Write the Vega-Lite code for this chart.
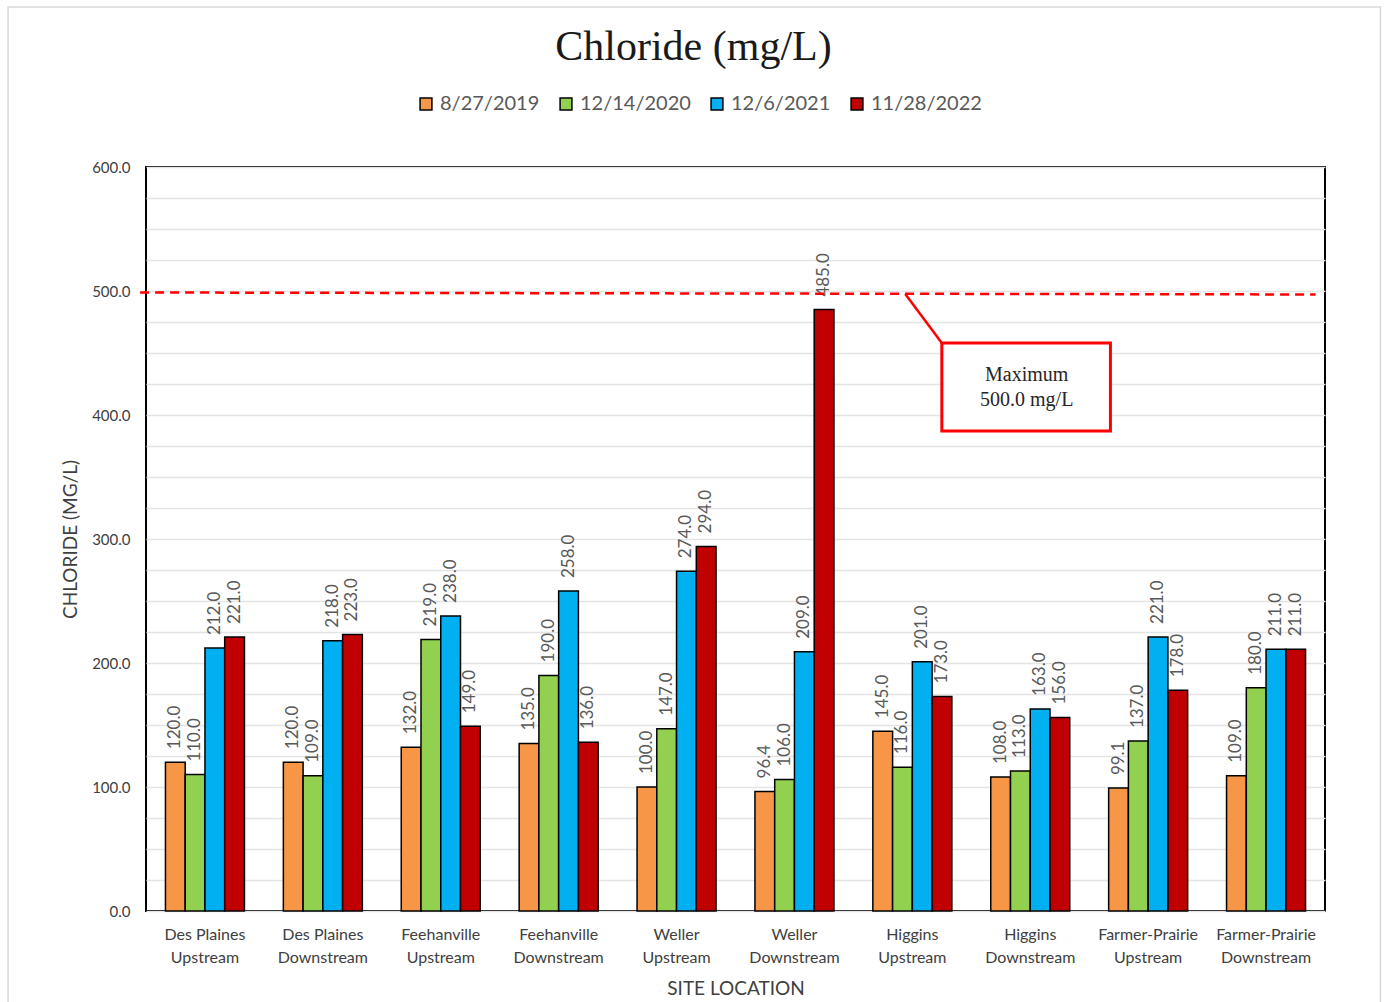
{
  "$schema": "https://vega.github.io/schema/vega-lite/v6.json",
  "width": 1179,
  "height": 744,
  "autosize": {"type": "none"},
  "padding": {"left": 146, "top": 167, "right": 60, "bottom": 91},
  "background": "white",
  "config": {"view": {"stroke": "black", "strokeWidth": 2}, "font": "Lato"},
  "title": {"text": "Chloride (mg/L)", "font": "Liberation Serif", "fontSize": 42, "fontWeight": "normal", "color": "#1a1a1a", "anchor": "middle", "dx": -42, "dy": 79, "offset": 16},
  "datasets": {
    "chloride": [
      {"site": "Des Plaines|Upstream", "date": "8/27/2019", "value": 120},
      {"site": "Des Plaines|Upstream", "date": "12/14/2020", "value": 110},
      {"site": "Des Plaines|Upstream", "date": "12/6/2021", "value": 212},
      {"site": "Des Plaines|Upstream", "date": "11/28/2022", "value": 221},
      {"site": "Des Plaines|Downstream", "date": "8/27/2019", "value": 120},
      {"site": "Des Plaines|Downstream", "date": "12/14/2020", "value": 109},
      {"site": "Des Plaines|Downstream", "date": "12/6/2021", "value": 218},
      {"site": "Des Plaines|Downstream", "date": "11/28/2022", "value": 223},
      {"site": "Feehanville|Upstream", "date": "8/27/2019", "value": 132},
      {"site": "Feehanville|Upstream", "date": "12/14/2020", "value": 219},
      {"site": "Feehanville|Upstream", "date": "12/6/2021", "value": 238},
      {"site": "Feehanville|Upstream", "date": "11/28/2022", "value": 149},
      {"site": "Feehanville|Downstream", "date": "8/27/2019", "value": 135},
      {"site": "Feehanville|Downstream", "date": "12/14/2020", "value": 190},
      {"site": "Feehanville|Downstream", "date": "12/6/2021", "value": 258},
      {"site": "Feehanville|Downstream", "date": "11/28/2022", "value": 136},
      {"site": "Weller|Upstream", "date": "8/27/2019", "value": 100},
      {"site": "Weller|Upstream", "date": "12/14/2020", "value": 147},
      {"site": "Weller|Upstream", "date": "12/6/2021", "value": 274},
      {"site": "Weller|Upstream", "date": "11/28/2022", "value": 294},
      {"site": "Weller|Downstream", "date": "8/27/2019", "value": 96.4},
      {"site": "Weller|Downstream", "date": "12/14/2020", "value": 106},
      {"site": "Weller|Downstream", "date": "12/6/2021", "value": 209},
      {"site": "Weller|Downstream", "date": "11/28/2022", "value": 485},
      {"site": "Higgins|Upstream", "date": "8/27/2019", "value": 145},
      {"site": "Higgins|Upstream", "date": "12/14/2020", "value": 116},
      {"site": "Higgins|Upstream", "date": "12/6/2021", "value": 201},
      {"site": "Higgins|Upstream", "date": "11/28/2022", "value": 173},
      {"site": "Higgins|Downstream", "date": "8/27/2019", "value": 108},
      {"site": "Higgins|Downstream", "date": "12/14/2020", "value": 113},
      {"site": "Higgins|Downstream", "date": "12/6/2021", "value": 163},
      {"site": "Higgins|Downstream", "date": "11/28/2022", "value": 156},
      {"site": "Farmer-Prairie|Upstream", "date": "8/27/2019", "value": 99.1},
      {"site": "Farmer-Prairie|Upstream", "date": "12/14/2020", "value": 137},
      {"site": "Farmer-Prairie|Upstream", "date": "12/6/2021", "value": 221},
      {"site": "Farmer-Prairie|Upstream", "date": "11/28/2022", "value": 178},
      {"site": "Farmer-Prairie|Downstream", "date": "8/27/2019", "value": 109},
      {"site": "Farmer-Prairie|Downstream", "date": "12/14/2020", "value": 180},
      {"site": "Farmer-Prairie|Downstream", "date": "12/6/2021", "value": 211},
      {"site": "Farmer-Prairie|Downstream", "date": "11/28/2022", "value": 211}
    ]
  },
  "resolve": {"scale": {"x": "independent"}},
  "layer": [
    {
      "data": {"name": "chloride"},
      "encoding": {
        "x": {
          "field": "site", "type": "nominal", "sort": null, "title": "SITE LOCATION",
          "scale": {"paddingInner": 0.33, "paddingOuter": 0.165},
          "axis": {"labelAngle": 0, "labelExpr": "split(datum.label, '|')", "ticks": false, "domain": false, "grid": false,
                   "labelFont": "Lato", "labelFontSize": 16, "labelLineHeight": 23, "labelPadding": 15, "labelColor": "#404040", "labelBaseline": "top",
                   "titleFont": "Lato", "titleFontSize": 19, "titleFontWeight": "normal", "titleColor": "#404040", "titlePadding": 14}
        },
        "xOffset": {"field": "date", "type": "nominal", "sort": null},
        "y": {
          "field": "value", "type": "quantitative", "title": "CHLORIDE (MG/L)",
          "scale": {"domain": [0, 600], "nice": false},
          "axis": {"values": [0,25,50,75,100,125,150,175,200,225,250,275,300,325,350,375,400,425,450,475,500,525,550,575,600],
                   "labelExpr": "datum.value % 100 === 0 ? format(datum.value, '.1f') : ''",
                   "ticks": false, "domain": false, "labelPadding": 16, "labelFont": "Lato", "labelFontSize": 15, "labelColor": "#404040",
                   "titleFont": "Lato", "titleFontSize": 19, "titleFontWeight": "normal", "titleColor": "#404040", "titlePadding": 11,
                   "gridColor": "#e4e4e4", "gridWidth": 1.5}
        }
      },
      "layer": [
        {
          "mark": {"type": "bar", "stroke": "black", "strokeWidth": 1.5},
          "encoding": {
            "color": {"field": "date", "type": "nominal", "sort": null,
              "scale": {"domain": ["8/27/2019", "12/14/2020", "12/6/2021", "11/28/2022"], "range": ["#F79646", "#92D050", "#00B0F0", "#C00000"]},
              "legend": {"orient": "none", "legendX": 270, "legendY": -73, "direction": "horizontal", "title": null,
                "labelFont": "Lato", "labelFontSize": 20, "labelColor": "#595959", "symbolType": "square", "symbolSize": 140,
                "symbolStrokeColor": "black", "symbolStrokeWidth": 1.5, "columnPadding": 16, "labelOffset": 4}
            }
          }
        },
        {
          "mark": {"type": "text", "angle": 270, "align": "left", "baseline": "middle", "dx": 13, "font": "Lato", "fontSize": 17, "color": "#595959"},
          "encoding": {"text": {"field": "value", "type": "quantitative", "format": ".1f"}}
        }
      ]
    },
    {
      "encoding": {
        "x": {"field": "x", "type": "quantitative", "scale": {"domain": [0, 10], "nice": false, "zero": false}, "axis": null},
        "y": {
          "field": "y", "type": "quantitative", "title": "CHLORIDE (MG/L)",
          "scale": {"domain": [0, 600], "nice": false},
          "axis": {"values": [0,25,50,75,100,125,150,175,200,225,250,275,300,325,350,375,400,425,450,475,500,525,550,575,600],
                   "labelExpr": "datum.value % 100 === 0 ? format(datum.value, '.1f') : ''",
                   "ticks": false, "domain": false, "labelPadding": 16, "labelFont": "Lato", "labelFontSize": 15, "labelColor": "#404040",
                   "titleFont": "Lato", "titleFontSize": 19, "titleFontWeight": "normal", "titleColor": "#404040", "titlePadding": 11,
                   "gridColor": "#e4e4e4", "gridWidth": 1.5}
        }
      },
      "layer": [
        {
          "data": {"values": [{"x": -0.05, "x2": 9.92, "y": 498.8, "y2": 497.2}]},
          "mark": {"type": "rule", "color": "#FF0000", "strokeWidth": 2.5, "strokeDash": [9, 6]},
          "encoding": {"x2": {"field": "x2"}, "y2": {"field": "y2"}}
        },
        {
          "data": {"values": [{"x": 6.44, "x2": 6.75, "y": 497.6, "y2": 458.1}]},
          "mark": {"type": "rule", "color": "#FF0000", "strokeWidth": 2.5},
          "encoding": {"x2": {"field": "x2"}, "y2": {"field": "y2"}}
        },
        {
          "data": {"values": [{"x": 6.75, "x2": 8.18, "y": 458.1, "y2": 387.1}]},
          "mark": {"type": "rect", "fill": "white", "stroke": "#FF0000", "strokeWidth": 3},
          "encoding": {"x2": {"field": "x2"}, "y2": {"field": "y2"}}
        },
        {
          "data": {"values": [{"x": 7.47, "y": 432.3, "t": "Maximum"}, {"x": 7.47, "y": 412.1, "t": "500.0 mg/L"}]},
          "mark": {"type": "text", "font": "Liberation Serif", "fontSize": 20, "color": "#262626", "align": "center", "baseline": "middle"},
          "encoding": {"text": {"field": "t"}}
        },
        {
          "data": {"values": [{"x": -1.17, "x2": 10.47, "y": 729, "y2": -75}]},
          "mark": {"type": "rect", "fill": null, "stroke": "#d9d9d9", "strokeWidth": 1.5},
          "encoding": {"x2": {"field": "x2"}, "y2": {"field": "y2"}}
        }
      ]
    }
  ]
}
